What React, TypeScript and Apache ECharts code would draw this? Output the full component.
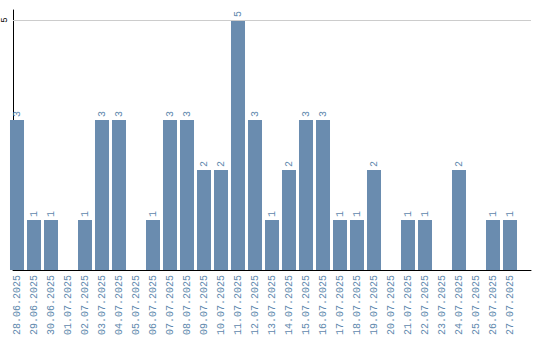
import React, { useEffect, useRef } from "react";
import * as echarts from "echarts";

const categories = [
  "28.06.2025", "29.06.2025", "30.06.2025", "01.07.2025", "02.07.2025", "03.07.2025",
  "04.07.2025", "05.07.2025", "06.07.2025", "07.07.2025", "08.07.2025", "09.07.2025",
  "10.07.2025", "11.07.2025", "12.07.2025", "13.07.2025", "14.07.2025", "15.07.2025",
  "16.07.2025", "17.07.2025", "18.07.2025", "19.07.2025", "20.07.2025", "21.07.2025",
  "22.07.2025", "23.07.2025", "24.07.2025", "25.07.2025", "26.07.2025", "27.07.2025",
];
const values = [3, 1, 1, 0, 1, 3, 3, 0, 1, 3, 3, 2, 2, 5, 3, 1, 2, 3, 3, 1, 1, 2, 0, 1, 1, 0, 2, 0, 1, 1];
const yMax = 5.2;
const yTick = 5;

const BAR = "#6a8caf";
const TXT = "#6088ad";
const FONT = "'Liberation Mono', monospace";

export default function App() {
  const ref = useRef<HTMLDivElement>(null);
  useEffect(() => {
    const chart = echarts.init(ref.current!, null, { renderer: "svg" });
    chart.setOption({
      animation: false,
      grid: [
        { left: 8.5, width: 510, top: 10, bottom: 70 },
        { left: 10, right: 9, top: 10, bottom: 70 },
      ],
      xAxis: [
        {
          gridIndex: 0,
          type: "category",
          data: categories,
          axisLine: { show: false },
          axisTick: { show: false },
          splitLine: { show: false },
          axisLabel: {
            rotate: 90,
            interval: 0,
            color: TXT,
            fontFamily: FONT,
            fontSize: 10,
            margin: 5,
          },
        },
        {
          gridIndex: 1,
          type: "value",
          min: 0,
          max: 1,
          axisLine: { show: true, lineStyle: { color: "#000", width: 1 } },
          axisTick: { show: false },
          axisLabel: { show: false },
          splitLine: { show: false },
        },
      ],
      yAxis: [
        {
          gridIndex: 0,
          type: "value",
          min: 0,
          max: yMax,
          show: false,
          splitLine: { show: false },
        },
        {
          gridIndex: 1,
          type: "value",
          min: 0,
          max: yMax,
          interval: yTick,
          axisLine: { show: true, lineStyle: { color: "#000", width: 1 } },
          axisTick: { show: false },
          splitLine: { show: false },
          axisLabel: {
            rotate: 90,
            color: "#000",
            fontFamily: FONT,
            fontSize: 9,
            margin: 4,
            formatter: (v: number) => (v === yTick ? String(yTick) : ""),
          },
        },
      ],
      series: [
        {
          type: "bar",
          xAxisIndex: 0,
          yAxisIndex: 0,
          data: values.map((v) => (v === 0 ? null : v)),
          barCategoryGap: "17.6%",
          itemStyle: { color: BAR },
          label: {
            show: true,
            position: "top",
            rotate: 90,
            align: "left",
            verticalAlign: "middle",
            distance: 3,
            color: TXT,
            fontFamily: FONT,
            fontSize: 10,
          },
        },
        {
          type: "line",
          xAxisIndex: 1,
          yAxisIndex: 1,
          data: [],
          markLine: {
            silent: true,
            symbol: "none",
            label: { show: false },
            lineStyle: { color: "#cccccc", width: 1, type: "solid" },
            data: [{ yAxis: yTick }],
          },
        },
      ],
    });
    return () => chart.dispose();
  }, []);
  return <div ref={ref} style={{ width: 540, height: 340, position: "absolute", left: 0, top: 0 }} />;
}
